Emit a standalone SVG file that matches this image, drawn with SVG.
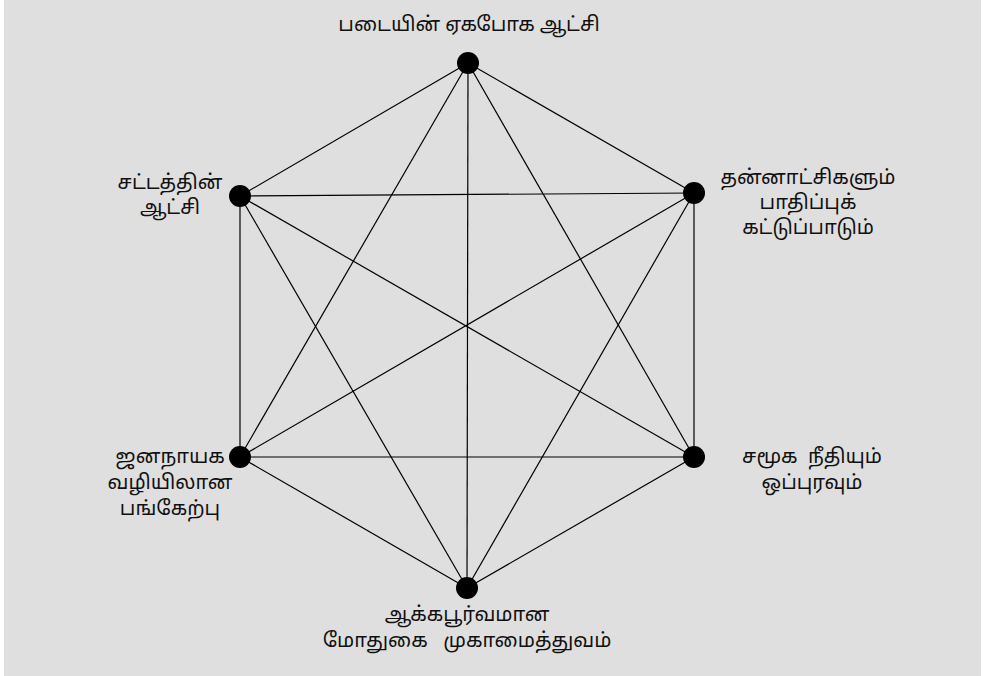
<svg xmlns="http://www.w3.org/2000/svg" width="983" height="676" viewBox="0 0 983 676">
<style>
.lbl{font-family:"Noto Sans","Noto Sans Tamil","Lohit Tamil",sans-serif;font-size:20px;fill:#111;text-anchor:middle;white-space:pre}
.edge{stroke:#000;stroke-width:1.2;fill:none}
.dot{fill:#000}
</style>
<rect x="4" y="0" width="977" height="676" fill="#dfdfdf"/>
<g id="connectors">
<line class="edge" x1="468" y1="63" x2="240" y2="196"/>
<line class="edge" x1="468" y1="63" x2="694" y2="193"/>
<line class="edge" x1="468" y1="63" x2="240" y2="457"/>
<line class="edge" x1="468" y1="63" x2="694" y2="457"/>
<line class="edge" x1="468" y1="63" x2="467" y2="588"/>
<line class="edge" x1="240" y1="196" x2="694" y2="193"/>
<line class="edge" x1="240" y1="196" x2="240" y2="457"/>
<line class="edge" x1="240" y1="196" x2="694" y2="457"/>
<line class="edge" x1="240" y1="196" x2="467" y2="588"/>
<line class="edge" x1="694" y1="193" x2="240" y2="457"/>
<line class="edge" x1="694" y1="193" x2="694" y2="457"/>
<line class="edge" x1="694" y1="193" x2="467" y2="588"/>
<line class="edge" x1="240" y1="457" x2="694" y2="457"/>
<line class="edge" x1="240" y1="457" x2="467" y2="588"/>
<line class="edge" x1="694" y1="457" x2="467" y2="588"/>
</g>
<g id="n-top"><circle class="dot" cx="468" cy="63" r="11"/><text class="lbl" x="469" y="31">படையின் ஏகபோக ஆட்சி</text></g>
<g id="n-ul"><circle class="dot" cx="240" cy="196" r="11"/><text class="lbl" x="170" y="189">சட்டத்தின்</text><text class="lbl" x="170" y="214">ஆட்சி</text></g>
<g id="n-ur"><circle class="dot" cx="694" cy="193" r="11"/><text class="lbl" x="808" y="184">தன்னாட்சிகளும்</text><text class="lbl" x="808" y="209">பாதிப்புக்</text><text class="lbl" x="808" y="234">கட்டுப்பாடும்</text></g>
<g id="n-ll"><circle class="dot" cx="240" cy="457" r="11"/><text class="lbl" x="170" y="463">ஜனநாயக</text><text class="lbl" x="170" y="489">வழியிலான</text><text class="lbl" x="170" y="515">பங்கேற்பு</text></g>
<g id="n-lr"><circle class="dot" cx="694" cy="457" r="11"/><text class="lbl" x="812" y="463">சமூக  நீதியும்</text><text class="lbl" x="812" y="489">ஒப்புரவும்</text></g>
<g id="n-bot"><circle class="dot" cx="467" cy="588" r="11"/><text class="lbl" x="467" y="621">ஆக்கபூர்வமான</text><text class="lbl" x="467" y="647">மோதுகை   முகாமைத்துவம்</text></g>
</svg>
